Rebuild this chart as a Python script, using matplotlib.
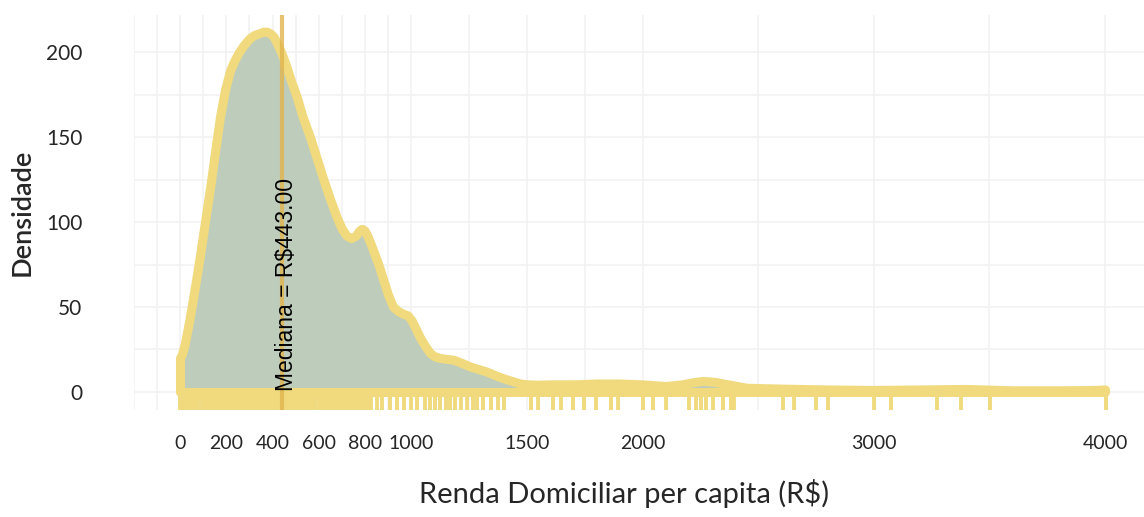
"""Densidade da renda domiciliar per capita, com rug e mediana."""

import matplotlib

matplotlib.use("Agg")
from matplotlib import pyplot as plt  # noqa: E402

# curva de densidade (renda em R$, densidade)
renda = [0, 8, 20, 40, 60, 86, 110, 130, 150, 173, 195, 216, 235, 255, 275, 300,
         320, 340, 360, 375, 390, 405, 420, 440, 461, 480, 504, 530, 562, 590,
         620, 650, 677, 700, 720, 740, 760, 775, 786, 798, 810, 822, 836, 858,
         879, 900, 922, 944, 966, 985, 1002, 1020, 1038, 1060, 1081, 1100, 1124,
         1150, 1182, 1220, 1254, 1290, 1326, 1360, 1399, 1435, 1470, 1505, 1542,
         1614, 1700, 1800, 1900, 2000, 2100, 2170, 2220, 2260, 2310, 2370, 2450,
         2600, 2800, 3000, 3200, 3400, 3600, 3800, 3950, 4000]
densidade = [20, 22, 28, 42, 58, 80, 102, 120, 140, 162, 178, 189, 195, 200, 204, 208,
             210, 211, 212, 212, 211, 209, 205, 199, 191, 183, 174, 162, 150, 138,
             125, 113, 103, 96, 92, 90.5, 92, 95, 96, 95, 92, 88, 83, 75,
             66, 57, 50, 47.5, 46, 45, 42, 37, 32, 27, 23, 21, 20,
             19.5, 19, 17, 15, 13.5, 12, 10, 8, 6.5, 5, 4.5, 4.3,
             4.5, 4.5, 5, 5, 4.5, 3.5, 4.5, 5.8, 6.5, 6, 4.5, 2.5,
             2, 1.5, 1.2, 1.5, 1.8, 1, 1, 1.2, 1.5]

# observacoes do rug
rug = [1, 12, 24, 36, 47, 62, 70, 78, 93, 104, 116, 128, 140, 152, 164, 176, 188,
       200, 212, 224, 236, 248, 260, 272, 284, 296, 308, 320, 332, 344, 356, 368,
       380, 392, 404, 416, 428, 440, 452, 464, 476, 488, 500, 512, 524, 536, 548,
       560, 572, 584, 599, 610, 622, 634, 646, 658, 670, 682, 694, 706, 718, 730,
       742, 754, 766, 778, 790, 802, 814, 826,
       850, 875, 909, 940, 970, 1000, 1026, 1060, 1083, 1104, 1126, 1150, 1169,
       1190, 1213, 1243, 1265, 1286, 1312, 1343, 1377, 1399, 1516, 1546, 1615,
       1646, 1698, 1745, 1797, 1862, 1892, 2001, 2044, 2100, 2200, 2230, 2252,
       2274, 2304, 2347, 2382, 2395, 2607, 2655, 2750, 2802,
       3001, 3075, 3274, 3378, 3504, 4006]

mediana = 443.0
xticks = [0, 200, 400, 600, 800, 1000, 1500, 2000, 3000, 4000]
yticks = [0, 50, 100, 150, 200]
xgrid = [-200, -100, 0, 100, 200, 300, 400, 500, 600, 700, 800, 900, 1000,
         1250, 1500, 1750, 2000, 2500, 3000, 3500, 4000]
ygrid = [0, 25, 50, 75, 100, 125, 150, 175, 200]

AMARELO = "#F0DA7D"
VERDE = "#BECCBC"
TEXTO = "#262626"

fig = plt.figure(figsize=(11.44, 5.17), dpi=100)
ax = fig.add_axes([133.75 / 1144, 107 / 517, 1 - 133.75 / 1144, 395 / 517])
ax.set_xlim(-200, 4168.6)
ax.set_ylim(-10.6, 221.8)

for gx in xgrid:
    ax.axvline(gx, color="#F2F2F2", lw=1.2, zorder=0)
for gy in ygrid:
    ax.axhline(gy, color="#F2F2F2", lw=1.2, zorder=0)

ax.fill_between(renda, 0, densidade, facecolor=VERDE, edgecolor=AMARELO,
                linewidth=6.5, joinstyle="round", zorder=2)
ax.vlines(rug, -10.6, 0, color=AMARELO, lw=2.8, zorder=1)

ax.axvline(mediana, color="#E2B54E", lw=3, alpha=0.8, zorder=3)
ax.text(mediana + 16, 0.5, f"Mediana = R${mediana:.2f}", rotation=90,
        ha="center", va="bottom", fontsize=16.5, family="Liberation Sans",
        color="black", zorder=4)

for side in ax.spines.values():
    side.set_visible(False)

ax.set_xticks(xticks)
ax.set_xticklabels([str(t) for t in xticks])
ax.set_yticks(yticks)
ax.tick_params(length=0, labelcolor=TEXTO)
ax.tick_params(axis="x", pad=18, labelsize=14)
ax.tick_params(axis="y", pad=37, labelsize=15)
for lab in ax.get_xticklabels() + ax.get_yticklabels():
    lab.set_family("Lato")

ax.set_xlabel("Renda Domiciliar per capita (R$)", fontsize=21, family="Lato",
              color=TEXTO)
ax.xaxis.set_label_coords((624 - 133.75) / 1010.25, (410 - 493) / 395)
ax.xaxis.label.set_va("center")
ax.set_ylabel("Densidade", fontsize=19.5, family="Lato", color=TEXTO,
              fontweight="semibold")
ax.yaxis.set_label_coords((22 - 133.75) / 1010.25, (410 - 212) / 395)
ax.yaxis.label.set_va("center")

fig.savefig("out.png", dpi=100)
